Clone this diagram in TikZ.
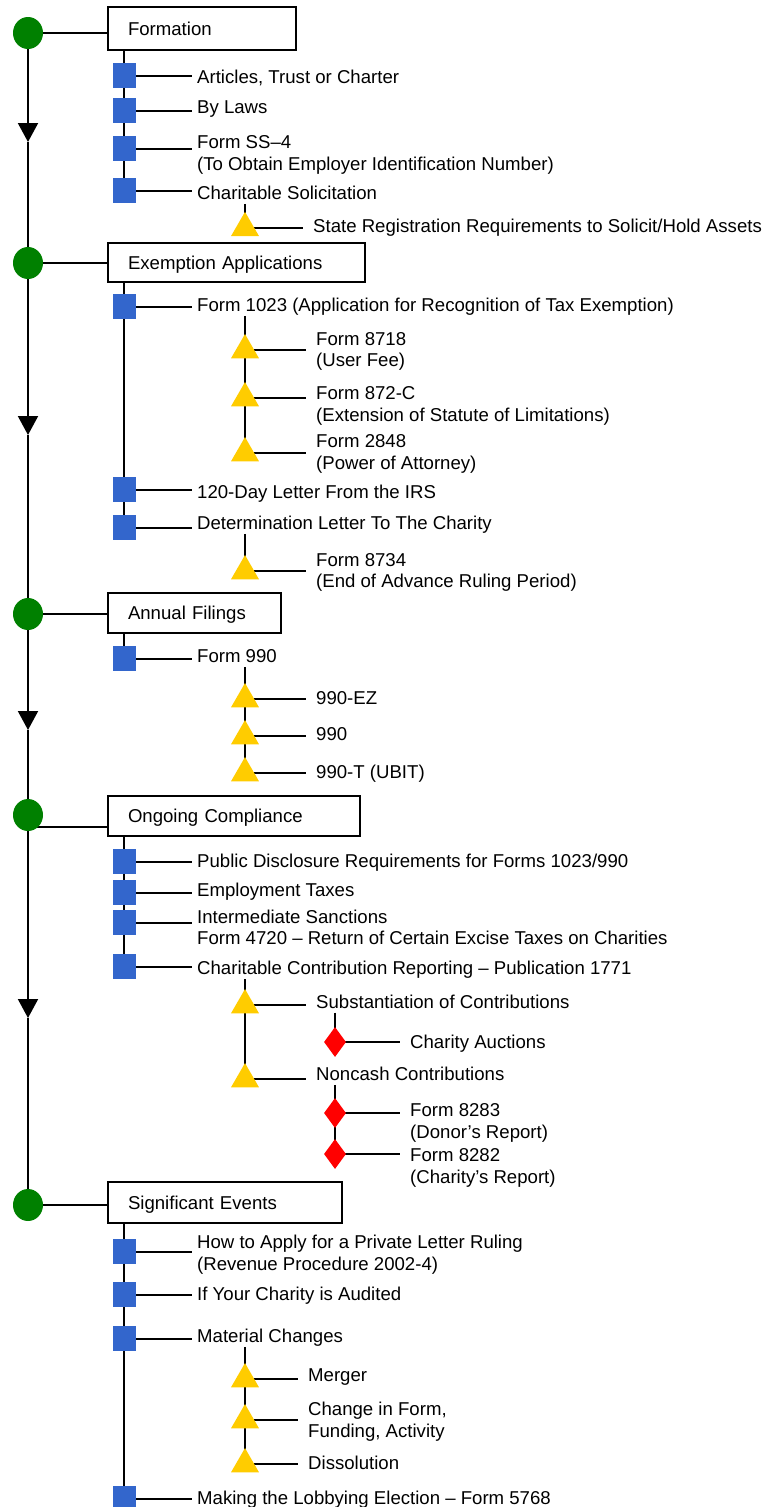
\documentclass[tikz,border=0pt]{standalone}
\usepackage{fontspec}
\setmainfont{Liberation Sans}
\usetikzlibrary{shapes.geometric,arrows.meta,backgrounds}
\definecolor{cgreen}{RGB}{0,128,0}
\definecolor{cblue}{RGB}{51,102,204}
\definecolor{cyellow}{RGB}{255,204,0}
\definecolor{cred}{RGB}{255,0,0}
\newcommand{\tst}{\rule[-4pt]{0pt}{17.5pt}}
\begin{document}
\begin{tikzpicture}[x=1pt,y=-1pt,
  every node/.style={font=\fontsize{18.6}{21.8}\selectfont},
  wire/.style={line width=2pt},
  dot/.style={ellipse, fill=cgreen, minimum width=30pt, minimum height=32pt, inner sep=0pt},
  hdr/.style={draw, line width=2pt, rectangle, anchor=west, inner xsep=20pt, inner ysep=0pt, text width=#1, align=left, text height=13.4pt, text depth=0pt},
  sq/.style={rectangle, fill=cblue, minimum width=23pt, minimum height=25pt, inner sep=0pt},
  tri/.style={regular polygon, regular polygon sides=3, fill=cyellow, minimum size=32.3pt, inner sep=0pt},
  dia/.style={diamond, fill=cred, minimum width=22pt, minimum height=30pt, inner sep=0pt},
  lbl/.style={anchor=west, inner xsep=5pt, inner ysep=0pt, align=left},
  sublbl/.style={lbl, inner xsep=10pt},
  flow/.style={wire, -{Triangle[width=20pt,length=19pt]}}
]
\useasboundingbox (0,0) rectangle (780,1507);

% timeline dots
\node[dot] (c1) at (28,33) {};
\node[dot] (c2) at (28,263) {};
\node[dot] (c3) at (28,614) {};
\node[dot] (c4) at (28,815) {};
\node[dot] (c5) at (28,1205) {};
\coordinate (a1) at (28,142);
\coordinate (a2) at (28,435);
\coordinate (a3) at (28,730);
\coordinate (a4) at (28,1018);

% Section 1
\node[hdr=148pt, minimum height=43pt] (h1) at (107,28.5) {Formation};
\node[sq] (s11) at (124,75.5) {};
\node[lbl] (t11) at (192,78.4) {\tst Articles, Trust or Charter};
\node[sq] (s12) at (124,110.5) {};
\node[lbl] (t12) at (192,108.6) {\tst By Laws};
\node[sq] (s13) at (124,148.5) {};
\node[lbl] (t13) at (192,155) {\tst Form SS–4\\\tst (To Obtain Employer Identification Number)};
\node[sq] (s14) at (124,190.5) {};
\node[lbl] (t14) at (192,195) {\tst Charitable Solicitation};
\node[tri] (r11) at (245,228) {};
\node[sublbl] (u11) at (303,228) {\tst State Registration Requirements to Solicit/Hold Assets};

% Section 2
\node[hdr=217pt, minimum height=39pt] (h2) at (107,262.5) {Exemption Applications};
\node[sq] (s21) at (124,306.5) {};
\node[lbl] (t21) at (192,307) {\tst Form 1023 (Application for Recognition of Tax Exemption)};
\node[tri] (r21) at (245,350.2) {};
\node[sublbl] (u21) at (306,351.2) {\tst Form 8718\\\tst (User Fee)};
\node[tri] (r22) at (245,398.2) {};
\node[sublbl] (u22) at (306,406) {\tst Form 872-C\\\tst (Extension of Statute of Limitations)};
\node[tri] (r23) at (245,453.2) {};
\node[sublbl] (u23) at (306,453.6) {\tst Form 2848\\\tst (Power of Attorney)};
\node[sq] (s22) at (124,489.5) {};
\node[lbl] (t22) at (192,493.6) {\tst 120-Day Letter From the IRS};
\node[sq] (s23) at (124,527.5) {};
\node[lbl] (t23) at (192,525) {\tst Determination Letter To The Charity};
\node[tri] (r24) at (245,571.2) {};
\node[sublbl] (u24) at (306,572.3) {\tst Form 8734\\\tst (End of Advance Ruling Period)};

% Section 3
\node[hdr=133pt, minimum height=40pt] (h3) at (107,613) {Annual Filings};
\node[sq] (s31) at (124,658.5) {};
\node[lbl] (t31) at (192,658) {\tst Form 990};
\node[tri] (r31) at (245,699.2) {};
\node[sublbl] (u31) at (306,699.7) {\tst 990-EZ};
\node[tri] (r32) at (245,736.2) {};
\node[sublbl] (u32) at (306,735.6) {\tst 990};
\node[tri] (r33) at (245,773.2) {};
\node[sublbl] (u33) at (306,773.6) {\tst 990-T (UBIT)};

% Section 4
\node[hdr=212pt, minimum height=40pt] (h4) at (107,816) {Ongoing Compliance};
\node[sq] (s41) at (124,861.5) {};
\node[lbl] (t41) at (192,862.6) {\tst Public Disclosure Requirements for Forms 1023/990};
\node[sq] (s42) at (124,892.5) {};
\node[lbl] (t42) at (192,891.6) {\tst Employment Taxes};
\node[sq] (s43) at (124,922.5) {};
\node[lbl] (t43) at (192,929.3) {\tst Intermediate Sanctions\\\tst Form 4720 – Return of Certain Excise Taxes on Charities};
\node[sq] (s44) at (124,966.5) {};
\node[lbl] (t44) at (192,970.2) {\tst Charitable Contribution Reporting – Publication 1771};
\node[tri] (r41) at (245,1005.2) {};
\node[sublbl] (u41) at (306,1003.6) {\tst Substantiation of Contributions};
\node[dia] (d41) at (335,1042) {};
\node[sublbl] (v41) at (400,1043.6) {\tst Charity Auctions};
\node[tri] (r42) at (245,1079.2) {};
\node[sublbl] (u42) at (306,1075.9) {\tst Noncash Contributions};
\node[dia] (d42) at (335,1113) {};
\node[sublbl] (v42) at (400,1122.7) {\tst Form 8283\\\tst (Donor’s Report)};
\node[dia] (d43) at (335,1154) {};
\node[sublbl] (v43) at (400,1167.7) {\tst Form 8282\\\tst (Charity’s Report)};

% Section 5
\node[hdr=194pt, minimum height=41pt] (h5) at (107,1202.5) {Significant Events};
\node[sq] (s51) at (124,1251.5) {};
\node[lbl] (t51) at (192,1254.9) {\tst How to Apply for a Private Letter Ruling\\\tst (Revenue Procedure 2002-4)};
\node[sq] (s52) at (124,1294.5) {};
\node[lbl] (t52) at (192,1295.9) {\tst If Your Charity is Audited};
\node[sq] (s53) at (124,1338.5) {};
\node[lbl] (t53) at (192,1337.9) {\tst Material Changes};
\node[tri] (r51) at (245,1379.2) {};
\node[sublbl] (u51) at (298,1376.9) {\tst Merger};
\node[tri] (r52) at (245,1420.2) {};
\node[sublbl] (u52) at (298,1422.1) {\tst Change in Form,\\\tst Funding, Activity};
\node[tri] (r53) at (245,1464.2) {};
\node[sublbl] (u53) at (298,1464.6) {\tst Dissolution};
\node[sq] (s54) at (124,1498.5) {};
\node[lbl] (t54) at (192,1499.6) {\tst Making the Lobbying Election – Form 5768};

\begin{scope}[on background layer]
  % main timeline
  \draw[flow] (c1) -- (a1);
  \draw[wire] (a1) -- (c2);
  \draw[flow] (c2) -- (a2);
  \draw[wire] (a2) -- (c3);
  \draw[flow] (c3) -- (a3);
  \draw[wire] (a3) -- (c4);
  \draw[flow] (c4) -- (a4);
  \draw[wire] (a4) -- (c5);
  % dots to headers
  \foreach \c/\h in {c1/h1,c2/h2,c3/h3,c5/h5}
    \draw[wire] (\c.center) -- (\c.center -| \h.west);
  \draw[wire] ([yshift=-12pt]c4.center) -- ([yshift=-12pt]c4.center -| h4.west);
  % vertical spines
  \draw[wire] (s11 |- h1.south) -- (s14.center);
  \draw[wire] (r11 |- t14.south) -- (r11.center);
  \draw[wire] (s21 |- h2.south) -- (s23.center);
  \draw[wire] (r21 |- t21.south) -- (r23.center);
  \draw[wire] (r24 |- t23.south) -- (r24.center);
  \draw[wire] (s31 |- h3.south) -- (s31.center);
  \draw[wire] (r31 |- t31.south) -- (r33.center);
  \draw[wire] (s41 |- h4.south) -- (s44.center);
  \draw[wire] (r41 |- t44.south) -- (r42.center);
  \draw[wire] (d41 |- u41.south) -- (d41.center);
  \draw[wire] (d42 |- u42.south) -- (d43.center);
  \draw[wire] (s51 |- h5.south) -- (s54.center);
  \draw[wire] (r51 |- t53.south) -- (r53.center);
  % item connectors
  \foreach \s/\t in {s11/t11,s12/t12,s13/t13,s14/t14,r11/u11,
                     s21/t21,r21/u21,r22/u22,r23/u23,s22/t22,s23/t23,r24/u24,
                     s31/t31,r31/u31,r32/u32,r33/u33,
                     s41/t41,s42/t42,s43/t43,s44/t44,r41/u41,d41/v41,r42/u42,d42/v42,d43/v43,
                     s51/t51,s52/t52,s53/t53,r51/u51,r52/u52,r53/u53,s54/t54}
    \draw[wire] (\s.center) -- (\s.center -| \t.west);
\end{scope}
\end{tikzpicture}
\end{document}
